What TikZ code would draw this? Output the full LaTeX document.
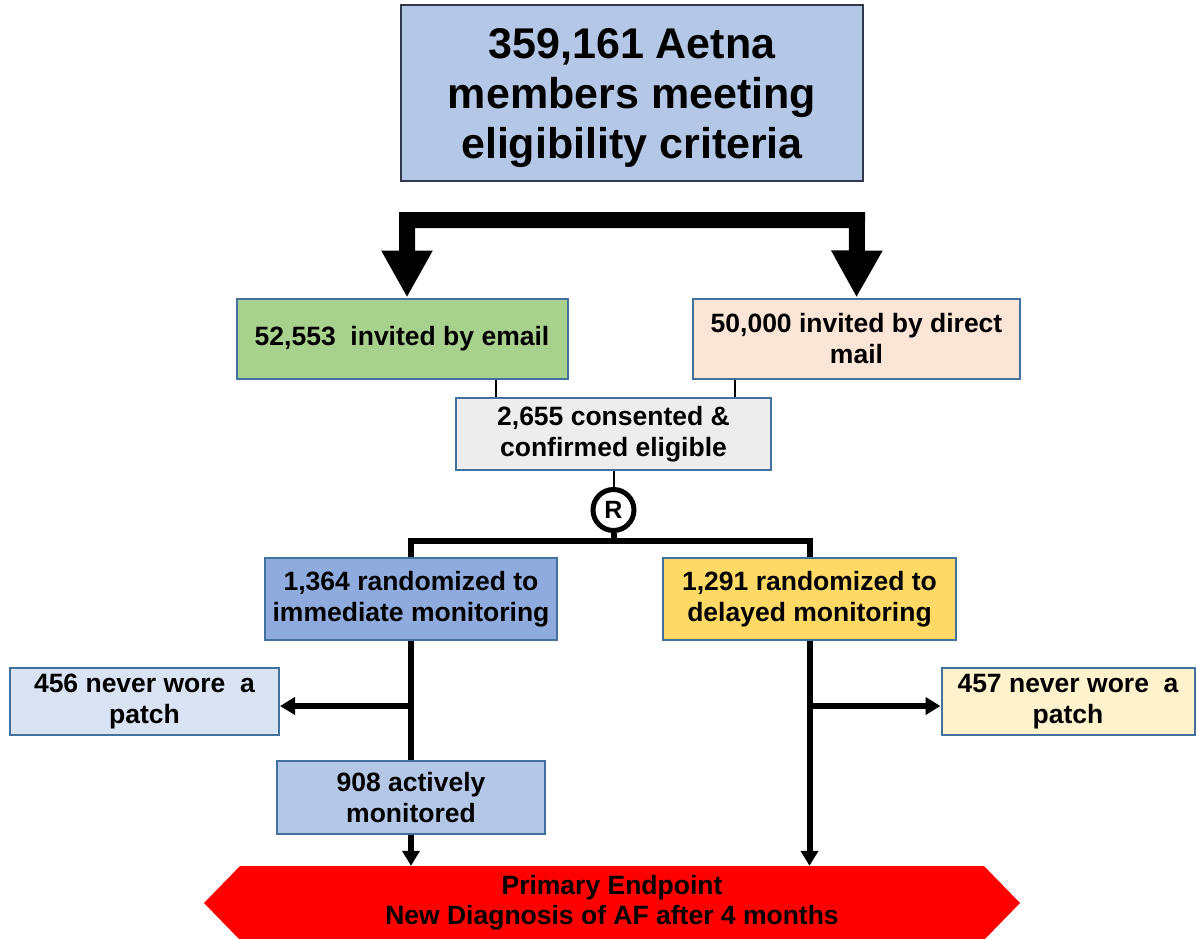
\documentclass[tikz,border=0pt]{standalone}
\usepackage{fontspec}
\setmainfont{Liberation Sans}
\usetikzlibrary{arrows.meta}
\definecolor{bord}{HTML}{41719C}
\definecolor{topbord}{HTML}{2F3B4C}
\definecolor{cTop}{HTML}{B4C7E7}
\definecolor{cGreen}{HTML}{A9D18E}
\definecolor{cPeach}{HTML}{FBE5D6}
\definecolor{cGrey}{HTML}{EDEDED}
\definecolor{cImm}{HTML}{8FAADC}
\definecolor{cDel}{HTML}{FFD966}
\definecolor{cLB}{HTML}{DAE3F3}
\definecolor{cLY}{HTML}{FFF2CC}
\definecolor{cRed}{HTML}{FF0000}
\begin{document}
\begin{tikzpicture}[x=1pt,y=-1pt,
  box/.style={draw=bord, line width=2pt, align=center, inner sep=0pt,
    font=\fontsize{26.5}{31}\selectfont\bfseries},
  thin/.style={draw=black, line width=2pt},
  bar/.style={draw=black, line width=6pt},
  arr/.style={draw=black, line width=6pt, -{Triangle[width=17pt,length=15pt]}},
  bigarr/.style={draw=black, line width=16pt, line join=miter,
    {Triangle[width=48pt,length=47pt]}-{Triangle[width=48pt,length=47pt]}}
]
\useasboundingbox (0,0) rectangle (1196,939);

% top box
\node[draw=topbord, line width=2pt, fill=cTop, inner sep=0pt,
  minimum width=462pt, minimum height=176pt,
  label={[align=center, yshift=-5pt, font=\fontsize{43}{50}\selectfont\bfseries]center:359,161 Aetna\\members meeting\\eligibility criteria}]
  (top) at (632,93) {};

\node[box, fill=cGreen, minimum width=331pt, minimum height=80pt] (green) at (402,338.5)
  {52,553\ \ invited by email};
\node[box, fill=cPeach, minimum width=327pt, minimum height=80pt] (peach) at (856.5,338.5)
  {50,000 invited by direct\\mail};

% big bracket arrow
\coordinate (bl) at (407,220);
\coordinate (br) at (857,220);
\draw[bigarr] ([xshift=5pt]green.north) -- (bl) -- (br) -- (peach.north);

\node[box, fill=cGrey, minimum width=315pt, minimum height=72pt] (mid) at (613.5,434)
  {2,655 consented \&\\confirmed eligible};

\draw[thin] ([xshift=94pt]green.south) -- ([xshift=94pt]green.south |- mid.north);
\draw[thin] ([xshift=-121.5pt]peach.south) -- ([xshift=-121.5pt]peach.south |- mid.north);

\node[draw=black, circle, line width=5pt, minimum size=41pt, inner sep=0pt,
  font=\fontsize{25}{30}\selectfont\bfseries] (R) at (613.5,510) {R};
\draw[thin] (mid.south) -- (R.north);

\node[box, fill=cImm, minimum width=292pt, minimum height=82pt] (imm) at (411,599)
  {1,364 randomized to\\immediate monitoring};
\node[box, fill=cDel, minimum width=293pt, minimum height=82pt] (del) at (809.5,599)
  {1,291 randomized to\\delayed monitoring};

\coordinate (rb) at (613.5,541);
\draw[bar] (R.south) -- (rb);
\draw[bar] (imm.north) |- (rb) -| (del.north);

\node[box, fill=cLB, minimum width=269pt, minimum height=67pt] (n456) at (144.5,701.5)
  {456 never wore\ \ a\\patch};
\node[box, fill=cLY, minimum width=253pt, minimum height=67pt] (n457) at (1068,701.5)
  {457 never wore\ \ a\\patch};
\node[box, fill=cTop, minimum width=268pt, minimum height=73pt] (n908) at (411,797.5)
  {908 actively\\monitored};

% endpoint
\fill[cRed] (204,903) -- (240,866) -- (984,866) -- (1020,903) -- (984,940) -- (240,940) -- cycle;
\node[minimum width=744pt, minimum height=74pt, inner sep=0pt, align=center,
  font=\fontsize{26.5}{30}\selectfont\bfseries] (ep) at (612,903)
  {Primary Endpoint\\New Diagnosis of AF after 4 months};

% left branch
\draw[bar] (imm.south) -- (n908.north);
\coordinate (jl) at (411,706);
\draw[arr] (jl) -- (jl -| n456.east);
\draw[arr] (n908.south) -- (n908.south |- ep.north);

% right branch
\coordinate (jr) at (809.5,706);
\draw[arr] (del.south) -- (del.south |- ep.north);
\draw[arr] (jr) -- (jr -| n457.west);
\end{tikzpicture}
\end{document}
